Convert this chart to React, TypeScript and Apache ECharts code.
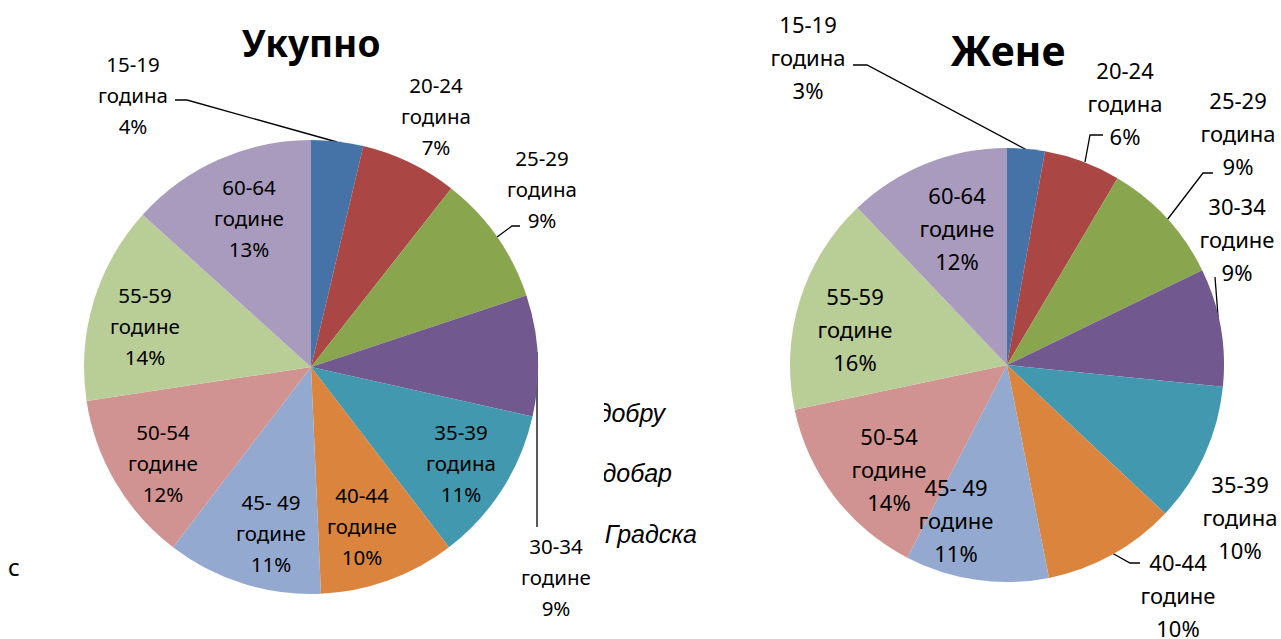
import React, { useEffect, useRef } from "react";
import * as echarts from "echarts";

const ageGroups = ["15-19", "20-24", "25-29", "30-34", "35-39", "40-44", "45- 49", "50-54", "55-59", "60-64"];
const ageWords = ["година", "година", "година", "године", "година", "године", "године", "године", "године", "године"];
const totalValues = [3.7, 6.9, 9.3, 8.6, 11.1, 9.7, 11.1, 12.2, 14.1, 13.3];
const womenValues = [2.8, 5.7, 9.3, 8.8, 10.4, 9.9, 10.7, 14.1, 16.2, 12.1];
const sliceColors = ["#4572A7", "#AA4643", "#89A54E", "#71588F", "#4198AF", "#DB843D", "#93A9CF", "#D19392", "#B9CD96", "#A99BBD"];
const titles = ["Укупно", "Жене"];
const backgroundWords = ["добру", "добар", "Градска"];

// label layout (positions only)
type Lay = { x: number; y: number; line?: number[][] };
const leftLayout: Lay[] = [
  { x: 133, y: 95, line: [[337, 142], [187, 100], [175, 100]] },
  { x: 436, y: 116 },
  { x: 542, y: 189, line: [[497, 237], [512, 226], [520, 226]] },
  { x: 556, y: 577, line: [[537, 352], [537, 440], [537, 527]] },
  { x: 461, y: 463 },
  { x: 362, y: 526 },
  { x: 271, y: 533 },
  { x: 163, y: 463 },
  { x: 145, y: 326 },
  { x: 249, y: 218 },
];
const rightLayout: Lay[] = [
  { x: 808, y: 57, line: [[1027, 150], [867, 65], [853, 65]] },
  { x: 1125, y: 103, line: [[1085, 162], [1090, 135], [1103, 135]] },
  { x: 1238, y: 133, line: [[1167, 220], [1203, 173], [1213, 173]] },
  { x: 1237, y: 239, line: [[1219, 330], [1217, 303], [1215, 277]] },
  { x: 1240, y: 517 },
  { x: 1178, y: 595, line: [[1112, 553], [1130, 563], [1140, 563]] },
  { x: 956, y: 520 },
  { x: 889, y: 469 },
  { x: 855, y: 329 },
  { x: 957, y: 228 },
];

function makeSeries(values: number[], center: number[], radius: number, layout: Lay[], fontSize: number, lineHeight: number) {
  return {
    type: "pie",
    center,
    radius,
    startAngle: 90,
    clockwise: true,
    avoidLabelOverlap: false,
    silent: true,
    data: values.map((v, i) => ({
      name: ageGroups[i] + " " + ageWords[i],
      value: v,
      itemStyle: { color: sliceColors[i] },
      labelLine: { show: !!layout[i].line },
    })),
    label: {
      show: true,
      position: "outside",
      fontFamily: "Noto Sans",
      fontSize,
      lineHeight,
      color: "#000",
      align: "center",
      formatter: (p: any) => `${ageGroups[p.dataIndex]}\n${ageWords[p.dataIndex]}\n${Math.round(p.percent)}%`,
    },
    labelLine: { show: true, lineStyle: { color: "#000", width: 1.3 } },
    labelLayout: (p: any) => {
      const l = layout[p.dataIndex];
      const r: any = { x: l.x, y: l.y, align: "center", verticalAlign: "middle" };
      if (l.line) r.labelLinePoints = l.line;
      return r;
    },
  };
}

export default function App() {
  const ref = useRef<HTMLDivElement>(null);
  useEffect(() => {
    if (!ref.current) return;
    const chart = echarts.init(ref.current, null, { renderer: "svg" });
    const bgBaselines = [422, 482, 543];
    const bgRight = [665, 672, 697];
    chart.setOption({
      animation: false,
      backgroundColor: "#fff",
      graphic: [
        ...backgroundWords.map((w, i) => ({
          type: "text",
          z: 0,
          x: bgRight[i],
          y: bgBaselines[i] - 9,
          style: { text: w, font: "italic 25px 'Liberation Sans'", fill: "#000", textAlign: "right", textVerticalAlign: "middle" },
        })),
        { type: "rect", z: 1, shape: { x: 20, y: 380, width: 584, height: 200 }, style: { fill: "#fff" } },
        { type: "text", z: 0, x: 8, y: 566, style: { text: "с", font: "24px 'Noto Sans'", fill: "#000", textAlign: "left", textVerticalAlign: "middle" } },
        { type: "text", z: 10, x: 311, y: 42, style: { text: titles[0], font: "bold 37px 'Noto Sans'", fill: "#000", textAlign: "center", textVerticalAlign: "middle" } },
        { type: "text", z: 10, x: 1008, y: 50, style: { text: titles[1], font: "bold 41px 'Noto Sans'", fill: "#000", textAlign: "center", textVerticalAlign: "middle" } },
      ],
      series: [
        makeSeries(totalValues, [311, 367], 227, leftLayout, 20.5, 31),
        makeSeries(womenValues, [1007, 365], 217, rightLayout, 22, 33),
      ],
    });
    return () => chart.dispose();
  }, []);
  return <div ref={ref} style={{ position: "fixed", left: 0, top: 0, width: 1281, height: 639 }} />;
}
